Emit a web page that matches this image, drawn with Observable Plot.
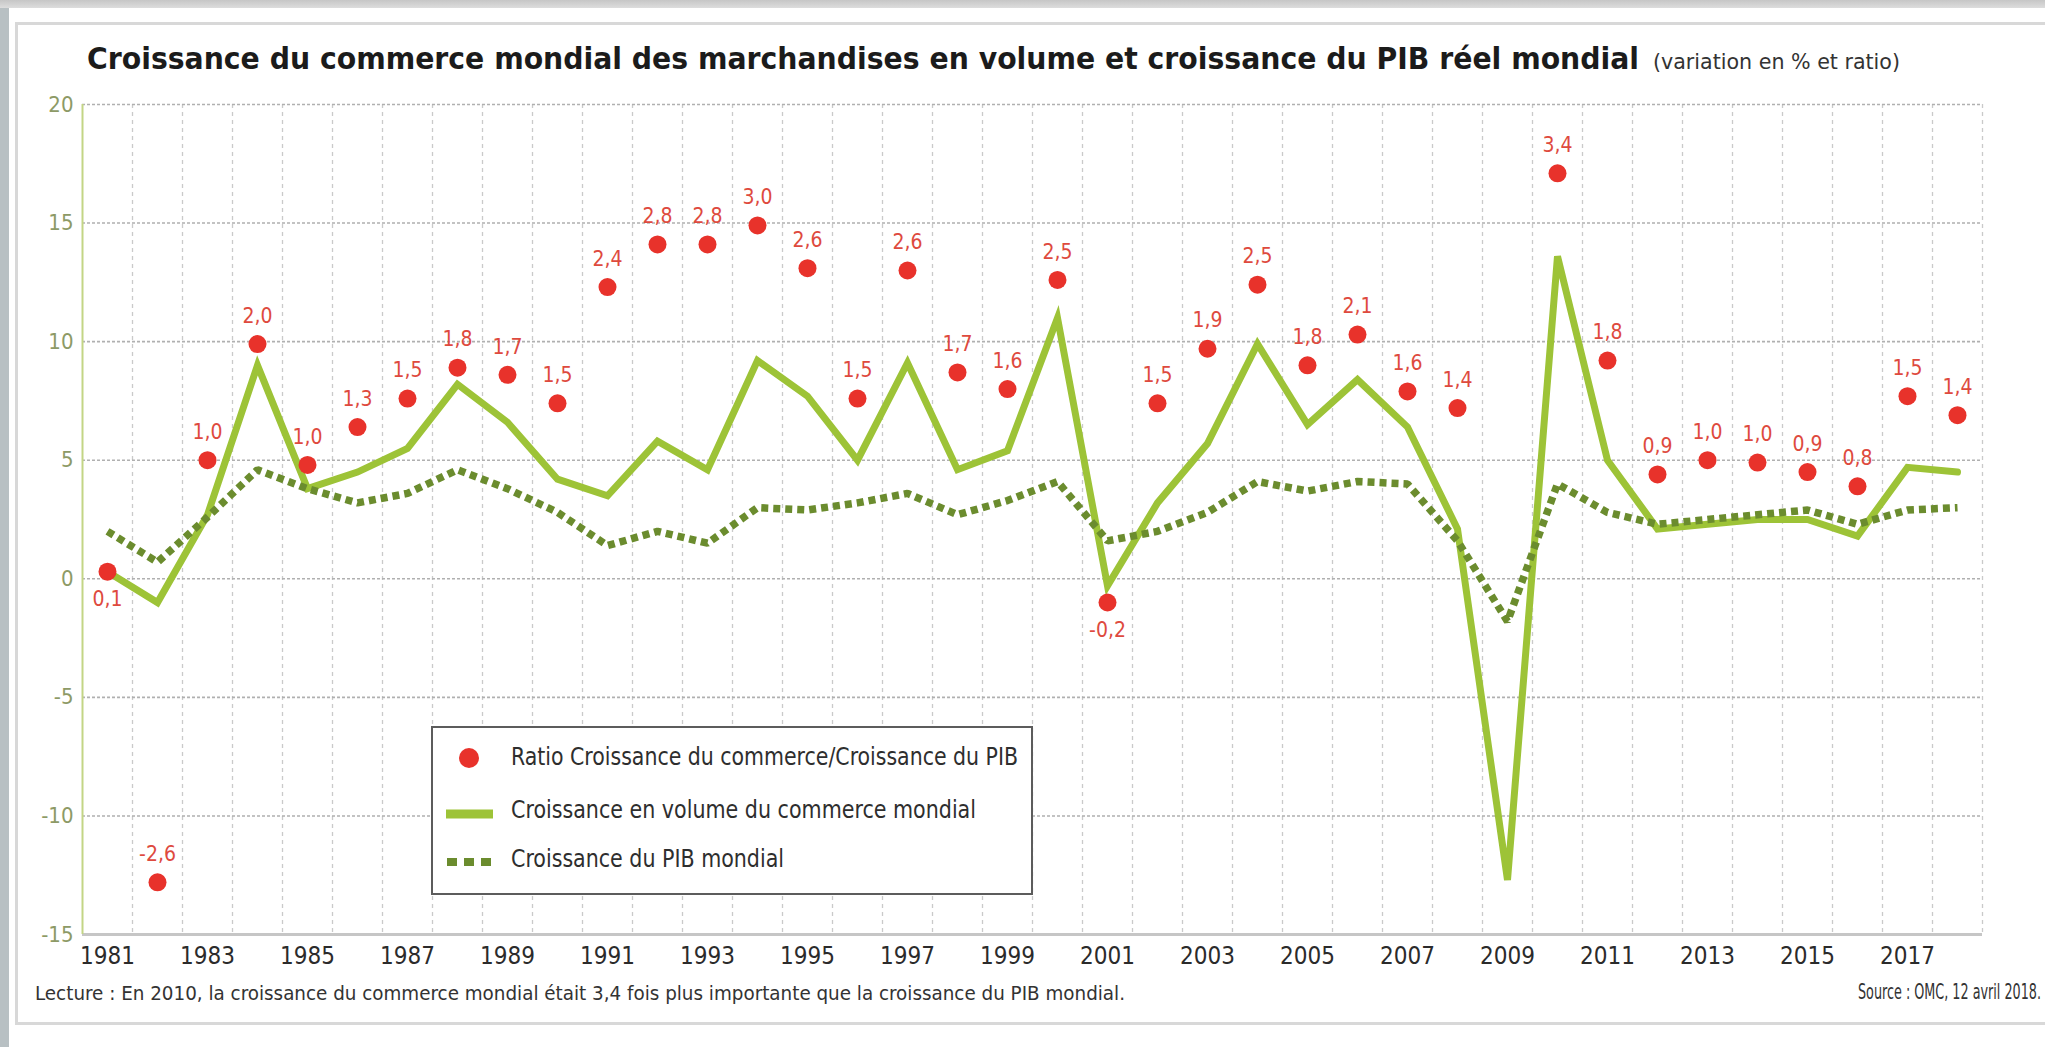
<!DOCTYPE html>
<html>
<head>
<meta charset="utf-8">
<script src="https://cdn.jsdelivr.net/npm/d3@7"></script>
<script src="https://cdn.jsdelivr.net/npm/@observablehq/plot@0.6"></script>
<style>
  html, body { margin: 0; padding: 0; background: #fff; }
  #page { position: relative; width: 2045px; height: 1047px; overflow: hidden; background: #fff;
          font-family: "Liberation Sans Narrow", "DejaVu Sans Condensed", "Noto Sans", sans-serif; }
  .strip-left { position: absolute; left: 0; top: 0; width: 9px; height: 1047px; background: #b8c0c3; }
  .strip-top { position: absolute; left: 0; top: 0; width: 2045px; height: 8px; background: linear-gradient(#c6c6c6, #dddddd); }
  .frame { position: absolute; left: 15px; top: 22px; width: 2070px; height: 1003px; border: 3px solid #d8d8d8; box-sizing: border-box; }
  .fit { position: absolute; white-space: nowrap; display: inline-block; line-height: 1; }
  #title { left: 87px; top: 44px; font-size: 30px; font-weight: bold; color: #1b1b1b; transform-origin: left center; }
  #subtitle { left: 1653px; top: 52px; font-size: 21px; color: #333; transform-origin: left center; }
  #chart { position: absolute; left: 0; top: 85px; }
  #legend { position: absolute; left: 431px; top: 726px; width: 602px; height: 169px; border: 2px solid #5c5c5c;
            box-sizing: border-box; background: #fff; }
  #legend .item { position: absolute; left: 78px; font-size: 24px; color: #2e2e2e; transform-origin: left center; }
  #legend svg { position: absolute; left: 0; top: 0; }
  #caption { left: 35px; top: 983px; font-size: 20px; color: #333; transform-origin: left center; }
  #source { left: 1858px; top: 982px; font-size: 21px; color: #333; transform-origin: left center; }
</style>
</head>
<body>
<div id="page">
  <div class="strip-left"></div>
  <div class="strip-top"></div>
  <div class="frame"></div>
  <span id="title" class="fit" data-w="1552">Croissance du commerce mondial des marchandises en volume et croissance du PIB réel mondial</span>
  <span id="subtitle" class="fit" data-w="247">(variation en % et ratio)</span>
  <div id="chart"></div>
  <div id="legend">
    <svg width="600" height="166">
      <circle cx="36" cy="30" r="10" fill="#e8322b"></circle>
      <line x1="13" x2="60" y1="86" y2="86" stroke="#9dc337" stroke-width="9"></line>
      <line x1="14" x2="58" y1="134" y2="134" stroke="#6b8c2e" stroke-width="8" stroke-dasharray="10,7"></line>
    </svg>
    <span class="item fit" style="top:17px" data-w="507">Ratio Croissance du commerce/Croissance du PIB</span>
    <span class="item fit" style="top:70px" data-w="465">Croissance en volume du commerce mondial</span>
    <span class="item fit" style="top:119px" data-w="273">Croissance du PIB mondial</span>
  </div>
  <span id="caption" class="fit" data-w="1090">Lecture : En 2010, la croissance du commerce mondial était 3,4 fois plus importante que la croissance du PIB mondial.</span>
  <span id="source" class="fit" data-w="183">Source : OMC, 12 avril 2018.</span>
</div>
<script>
// ---- data ----
const years = [1981,1982,1983,1984,1985,1986,1987,1988,1989,1990,
               1991,1992,1993,1994,1995,1996,1997,1998,1999,2000,
               2001,2002,2003,2004,2005,2006,2007,2008,2009,2010,
               2011,2012,2013,2014,2015,2016,2017,2018];
// Croissance en volume du commerce mondial (%)
const tradeGrowth = [0.3,-1.0,2.7,9.0,3.8,4.5,5.5,8.2,6.6,4.2,
                     3.5,5.8,4.6,9.2,7.7,5.0,9.1,4.6,5.4,11.0,
                     -0.3,3.2,5.7,9.9,6.5,8.4,6.4,2.1,-12.7,13.6,
                     5.0,2.1,2.3,2.5,2.5,1.8,4.7,4.5];
// Croissance du PIB mondial (%)
const gdpGrowth = [2.0,0.7,2.6,4.6,3.8,3.2,3.6,4.6,3.8,2.8,
                   1.4,2.0,1.5,3.0,2.9,3.2,3.6,2.7,3.3,4.1,
                   1.6,2.0,2.8,4.1,3.7,4.1,4.0,1.6,-1.8,4.0,
                   2.8,2.3,2.5,2.7,2.9,2.3,2.9,3.0];
// Ratio commerce/PIB, drawn on the same axis (ratio x 5)
const ratioScaled = [0.3,-12.8,5.0,9.9,4.8,6.4,7.6,8.9,8.6,7.4,
                     12.3,14.1,14.1,14.9,13.1,7.6,13.0,8.7,8.0,12.6,
                     -1.0,7.4,9.7,12.4,9.0,10.3,7.9,7.2,null,17.1,
                     9.2,4.4,5.0,4.9,4.5,3.9,7.7,6.9];
const ratioLabels = ["0,1","-2,6","1,0","2,0","1,0","1,3","1,5","1,8","1,7","1,5",
                     "2,4","2,8","2,8","3,0","2,6","1,5","2,6","1,7","1,6","2,5",
                     "-0,2","1,5","1,9","2,5","1,8","2,1","1,6","1,4",null,"3,4",
                     "1,8","0,9","1,0","1,0","0,9","0,8","1,5","1,4"];
const labelsBelow = [1981, 2001];
const yTicks = [-15,-10,-5,0,5,10,15,20];
const xTickYears = [1981,1983,1985,1987,1989,1991,1993,1995,1997,1999,2001,2003,2005,2007,2009,2011,2013,2015,2017];

const rows = years.map((year, i) => ({
  year, trade: tradeGrowth[i], gdp: gdpGrowth[i], ratio: ratioScaled[i], label: ratioLabels[i]
}));
const ratioRows = rows.filter(d => d.ratio != null);
const bandEdges = years.map(y => y + 0.5);

const font = '"Liberation Sans Narrow", "DejaVu Sans Condensed", "Noto Sans", sans-serif';

const chart = Plot.plot({
  width: 2045,
  height: 890,
  marginLeft: 82,
  marginRight: 63,
  marginTop: 19,
  marginBottom: 41,
  style: { fontFamily: font, background: "transparent", overflow: "visible" },
  x: { domain: [1980.5, 2018.5] },
  y: { domain: [-15, 20] },
  marks: [
    Plot.ruleX(bandEdges, { stroke: "#cacaca", strokeWidth: 1.3, strokeDasharray: "4,4" }),
    Plot.ruleY(yTicks.filter(v => v > -15), { stroke: "#b0b0b0", strokeWidth: 1.6, strokeDasharray: "3,2" }),
    Plot.ruleY([-15], { stroke: "#c6c6c6", strokeWidth: 3 }),
    Plot.ruleX([1980.5], { stroke: "#c3d585", strokeWidth: 2 }),
    Plot.line(rows, { x: "year", y: "trade", stroke: "#9dc337", strokeWidth: 7, strokeLinejoin: "miter", strokeMiterlimit: 6 }),
    Plot.line(rows, { x: "year", y: "gdp", stroke: "#6b8c2e", strokeWidth: 7.5, strokeDasharray: "7,5", strokeLinecap: "butt", strokeLinejoin: "miter" }),
    Plot.dot(ratioRows, { x: "year", y: "ratio", r: 9, fill: "#e8322b" }),
    Plot.text(ratioRows.filter(d => !labelsBelow.includes(d.year)), {
      x: "year", y: "ratio", text: "label", dy: -28, fill: "#de4a3e", fontSize: 21, lineAnchor: "middle"
    }),
    Plot.text(ratioRows.filter(d => labelsBelow.includes(d.year)), {
      x: "year", y: "ratio", text: "label", dy: 28, fill: "#de4a3e", fontSize: 21, lineAnchor: "middle"
    }),
    Plot.axisY({ ticks: yTicks, tickFormat: d => String(d), tickSize: 0, tickPadding: 9, fontSize: 22, fill: "#8d9a66", label: null }),
    Plot.axisX({ ticks: xTickYears, tickFormat: d => String(d), tickSize: 0, tickPadding: 12, fontSize: 24, fill: "#2b2b2b", label: null })
  ]
});
document.getElementById("chart").appendChild(chart);

function fitAll() {
  document.querySelectorAll(".fit").forEach(el => {
    const target = +el.dataset.w;
    el.style.transform = "none";
    const w = el.getBoundingClientRect().width;
    if (w > 0 && target) el.style.transform = `scaleX(${target / w})`;
  });
}
fitAll();
if (document.fonts && document.fonts.ready) document.fonts.ready.then(fitAll);
</script>
</body>
</html>
